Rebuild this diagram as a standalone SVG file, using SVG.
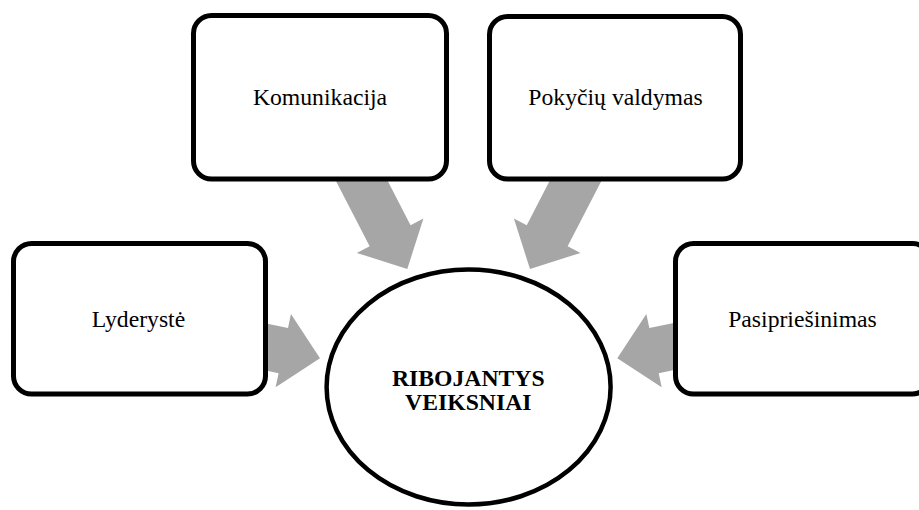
<svg xmlns="http://www.w3.org/2000/svg" width="919" height="510" viewBox="0 0 919 510">
<style>
.arrow{fill:#a6a6a6;stroke:none}
.box{fill:#ffffff;stroke:#000000;stroke-width:5}
.lbl{font-family:"Liberation Serif","Times New Roman",serif;font-size:23.7px;fill:#000000;text-anchor:middle}
.core{font-family:"Liberation Serif","Times New Roman",serif;font-size:23.7px;font-weight:bold;fill:#000000;text-anchor:middle}
</style>
<rect width="919" height="510" fill="#ffffff"/>
<g id="connectors">
<polygon class="arrow" points="248.83,319.94 287.99,328.12 290.96,313.92 320,358.3 275.62,387.34 278.59,373.14 239.43,364.96"/>
<polygon class="arrow" points="688.47,319.94 649.31,328.12 646.34,313.92 617.3,358.3 661.68,387.34 658.71,373.14 697.87,364.96"/>
<polygon class="arrow" points="332.97,175.14 369.66,246.23 356.78,252.88 407.3,269 423.42,218.48 410.54,225.13 373.85,154.04"/>
<polygon class="arrow" points="604.33,175.14 567.64,246.23 580.52,252.88 530,269 513.88,218.48 526.76,225.13 563.45,154.04"/>
</g>
<g id="komunikacija">
<rect class="box" x="193.5" y="15.5" width="253" height="163.5" rx="18" ry="18"/>
<text class="lbl" x="320" y="105">Komunikacija</text>
</g>
<g id="pokyciu-valdymas">
<rect class="box" x="489.5" y="16.5" width="251" height="162.5" rx="18" ry="18"/>
<text class="lbl" x="615.5" y="105">Pokyčių valdymas</text>
</g>
<g id="lyderyste">
<rect class="box" x="13.5" y="243.5" width="252" height="150.5" rx="18" ry="18"/>
<text class="lbl" x="138.5" y="327">Lyderystė</text>
</g>
<g id="pasipriesinimas">
<rect class="box" x="675.5" y="243.5" width="255" height="150.5" rx="18" ry="18"/>
<text class="lbl" x="802.5" y="327">Pasipriešinimas</text>
</g>
<g id="ribojantys-veiksniai">
<ellipse cx="468.6" cy="387" rx="142" ry="117.5" fill="#ffffff" stroke="#000000" stroke-width="4.5"/>
<text class="core" x="468.3" y="386">RIBOJANTYS</text>
<text class="core" x="468.3" y="410">VEIKSNIAI</text>
</g>
</svg>
